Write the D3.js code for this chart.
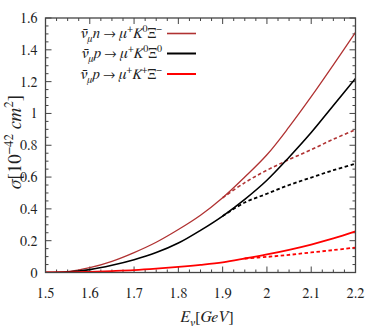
<!DOCTYPE html>
<html>
<head>
<meta charset="utf-8">
<script src="https://cdn.jsdelivr.net/npm/d3@7"></script>
<style>
  html, body { margin: 0; padding: 0; background: #fff; }
  svg { display: block; font-family: "FreeSerif", "Liberation Serif", serif; }
</style>
</head>
<body>
<svg id="chart" width="374" height="332"></svg>
<script>
// ---- data ----
const energy = [1.5, 1.55, 1.6, 1.65, 1.7, 1.75, 1.8, 1.85, 1.9, 1.95, 2.0, 2.05, 2.1, 2.15, 2.2];
const nK0XiMinus    = [0, 0.005, 0.03, 0.07, 0.125, 0.19, 0.27, 0.36, 0.47, 0.6, 0.74, 0.915, 1.105, 1.305, 1.51];
const pK0Xi0        = [0, 0.003, 0.018, 0.045, 0.08, 0.125, 0.185, 0.265, 0.355, 0.46, 0.58, 0.725, 0.88, 1.05, 1.22];
const pKplusXiMinus = [0, 0.001, 0.004, 0.009, 0.015, 0.024, 0.035, 0.048, 0.064, 0.088, 0.114, 0.143, 0.176, 0.214, 0.258];

// dashed branches
const energyDashA = [1.9, 1.95, 2.0, 2.05, 2.1, 2.15, 2.2];
const nK0XiMinusDash = [0.47, 0.565, 0.643, 0.71, 0.772, 0.838, 0.897];
const pK0Xi0Dash     = [0.355, 0.44, 0.495, 0.55, 0.597, 0.643, 0.684];
const energyDashB = [1.95, 2.0, 2.05, 2.1, 2.15, 2.2];
const pKplusXiMinusDash = [0.088, 0.098, 0.111, 0.126, 0.141, 0.157];

const xTicks = [1.5, 1.6, 1.7, 1.8, 1.9, 2, 2.1, 2.2];
const yTicks = [0, 0.2, 0.4, 0.6, 0.8, 1, 1.2, 1.4, 1.6];

const colDark = "#b03232", colBlack = "#000", colRed = "#ff0000";

// ---- layout ----
const svg = d3.select("#chart");
const L = 45.5, R = 355.5, T = 18, B = 272.5;
const x = d3.scaleLinear().domain([1.5, 2.2]).range([L, R]);
const y = d3.scaleLinear().domain([0, 1.6]).range([B, T]);

const frame = "#444";
const txt = "#222";

svg.append("clipPath").attr("id", "clip")
  .append("rect").attr("x", L).attr("y", T).attr("width", R - L).attr("height", B - T);

// ticks (inward, all four sides)
const tk = svg.append("g").attr("stroke", frame).attr("stroke-width", 1);
d3.range(0, 29).map(i => 1.5 + i * 0.025).forEach((v, i) => {
  const len = i % 4 === 0 ? 6 : 3;
  tk.append("line").attr("x1", x(v)).attr("x2", x(v)).attr("y1", B).attr("y2", B - len);
  tk.append("line").attr("x1", x(v)).attr("x2", x(v)).attr("y1", T).attr("y2", T + len);
});
d3.range(0, 33).map(i => i * 0.05).forEach((v, i) => {
  const len = i % 4 === 0 ? 6 : 3;
  tk.append("line").attr("y1", y(v)).attr("y2", y(v)).attr("x1", L).attr("x2", L + len);
  tk.append("line").attr("y1", y(v)).attr("y2", y(v)).attr("x1", R).attr("x2", R - len);
});

// tick labels
svg.append("g").selectAll("text").data(xTicks).join("text")
  .attr("x", d => x(d)).attr("y", 298).attr("fill", txt)
  .attr("text-anchor", "middle").attr("font-size", 14.5)
  .text(d => +d.toFixed(1));
svg.append("g").selectAll("text").data(yTicks).join("text")
  .attr("x", 37.5).attr("y", d => y(d) + 5).attr("fill", txt)
  .attr("text-anchor", "end").attr("font-size", 14)
  .text(d => +d.toFixed(1));

// curves
const line = d3.line().x(d => x(d[0])).y(d => y(d[1])).curve(d3.curveCatmullRom.alpha(0.5));
const plot = svg.append("g").attr("clip-path", "url(#clip)").attr("fill", "none");

const series = [
  { e: energyDashA, v: nK0XiMinusDash, c: colDark, w: 1.6, dash: "3.5,2.5" },
  { e: energyDashA, v: pK0Xi0Dash, c: colBlack, w: 1.8, dash: "3.5,2.5" },
  { e: energyDashB, v: pKplusXiMinusDash, c: colRed, w: 1.8, dash: "3.5,2.5" },
  { e: energy, v: nK0XiMinus, c: colDark, w: 1.3 },
  { e: energy, v: pK0Xi0, c: colBlack, w: 1.6 },
  { e: energy, v: pKplusXiMinus, c: colRed, w: 1.8 }
];
series.forEach(s => {
  plot.append("path")
    .attr("d", line(s.e.map((e, i) => [e, s.v[i]])))
    .attr("stroke", s.c).attr("stroke-width", s.w)
    .attr("stroke-dasharray", s.dash || null);
});

// frame
svg.append("rect").attr("x", L).attr("y", T).attr("width", R - L).attr("height", B - T)
  .attr("fill", "none").attr("stroke", frame).attr("stroke-width", 1.3);

// rich text helper: parts = [text, kind]; kind: "" | "i" | "sub" | "sup"
function rich(t, parts, small, shiftSub, shiftSup) {
  let level = 0;
  parts.forEach(([s, k]) => {
    const ts = t.append("tspan").text(s);
    let want = 0;
    if (k === "i") ts.style("font-style", "italic");
    if (k === "sub") { ts.style("font-style", "italic").attr("font-size", small); want = shiftSub; }
    if (k === "sup") { ts.attr("font-size", small); want = -shiftSup; }
    if (want !== level) ts.attr("dy", want - level);
    level = want;
  });
}

// legend
const legend = [
  { c: colDark, w: 1.6, tgt: "n", k: "0", xi: "−" },
  { c: colBlack, w: 2, tgt: "p", k: "0", xi: "0" },
  { c: colRed, w: 2, tgt: "p", k: "+", xi: "−" }
];
const legY = [33.5, 53.5, 74];
legend.forEach((d, i) => {
  const t = svg.append("text").attr("x", 162).attr("y", legY[i] + 4.5).attr("fill", txt)
    .attr("text-anchor", "end").attr("font-size", 15);
  rich(t, [["ν\u0304", "i"], ["μ", "sub"], [d.tgt, "i"], [" → ", ""], ["μ", "i"], ["+", "sup"],
           ["K", "i"], [d.k, "sup"], ["Ξ", ""], [d.xi, "sup"]], 10, 4, 6);
  svg.append("line").attr("x1", 167).attr("x2", 196).attr("y1", legY[i]).attr("y2", legY[i])
    .attr("stroke", d.c).attr("stroke-width", d.w);
});

// axis titles
const xl = svg.append("text").attr("x", 207).attr("y", 322).attr("fill", txt)
  .attr("text-anchor", "middle").attr("font-size", 16);
rich(xl, [["E", "i"], ["ν", "sub"], ["[", ""], ["GeV", "i"], ["]", ""]], 11, 4, 6);

const yl = svg.append("text").attr("transform", "translate(21,142) rotate(-90)").attr("fill", txt)
  .attr("text-anchor", "middle").attr("font-size", 19);
rich(yl, [["σ", "i"], ["[10", ""], ["−42", "sup"], [" ", ""], ["cm", "i"], ["2", "sup"], ["]", ""]], 13, 4, 8);
</script>
</body>
</html>
